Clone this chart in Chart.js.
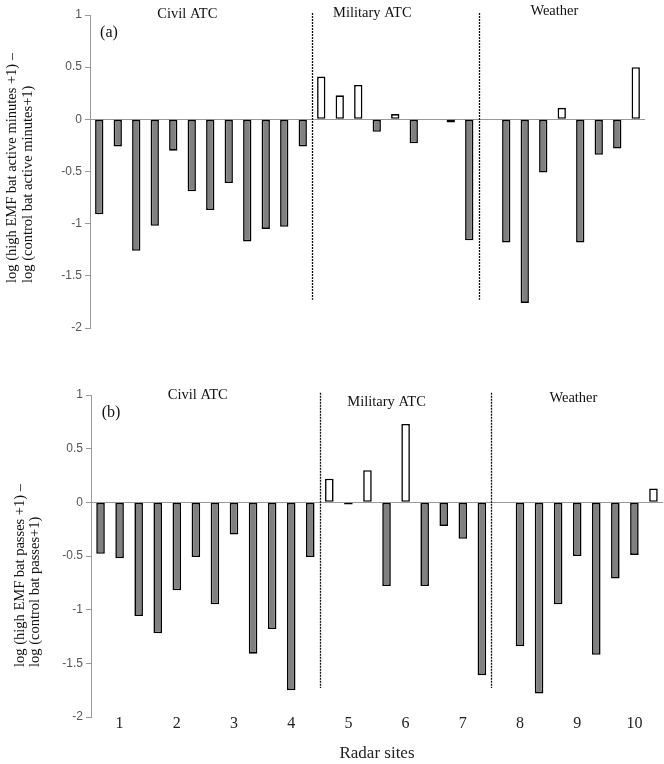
<!DOCTYPE html>
<html lang="en">
<head>
    <meta charset="UTF-8">
    <title>Radar sites - EMF bat activity</title>
    <script src="https://cdn.jsdelivr.net/npm/chart.js"></script>
    <style>
        body {
            margin: 0;
            background: #fff;
        }
        .panel {
            position: absolute;
            left: 0;
            width: 664px;
        }
        #panelA { top: 0; height: 345px; }
        #panelB { top: 380px; height: 384px; }
    </style>
</head>
<body>
    <div class="panel" id="panelA"><canvas id="chartA"></canvas></div>
    <div class="panel" id="panelB"><canvas id="chartB"></canvas></div>

    <script>
        // radar sites, 3 bars per site
        const sites = ['1', '2', '3', '4', '5', '6', '7', '8', '9', '10'];
        const groups = ['Civil ATC', 'Military ATC', 'Weather'];
        const yTicks = [-2, -1.5, -1, -0.5, 0, 0.5, 1];

        // (a) active minutes
        const activeMinutes = [
            -0.91, -0.26, -1.26, -1.02, -0.30, -0.69, -0.87, -0.61, -1.17, -1.05, -1.03, -0.26,
            0.41, 0.23, 0.33, -0.12, 0.05, -0.23, null, -0.03, -1.16,
            null, -1.18, -1.76, -0.51, 0.11, -1.18, -0.34, -0.28, 0.50
        ];
        // (b) bat passes
        const batPasses = [
            -0.48, -0.52, -1.06, -1.22, -0.82, -0.51, -0.95, -0.30, -1.41, -1.18, -1.75, -0.51,
            0.22, -0.02, 0.30, -0.78, 0.73, -0.78, -0.22, -0.34, -1.61,
            null, -1.34, -1.78, -0.95, -0.50, -1.42, -0.71, -0.49, 0.13
        ];

        const barLabels = [];
        sites.forEach(s => { barLabels.push(s, s, s); });

        const serif = "'Liberation Serif', 'Times New Roman', serif";
        const sans = "'Liberation Sans', Arial, sans-serif";

        function decor(cfg) {
            return {
                id: 'decor',
                afterDatasetsDraw(chart) {
                    const ctx = chart.ctx;
                    const x = chart.scales.x, y = chart.scales.y;
                    ctx.save();
                    // group separators
                    ctx.strokeStyle = '#111';
                    ctx.lineWidth = 1.3;
                    ctx.setLineDash([2, 1]);
                    [11.5, 20.5].forEach(v => {
                        const px = Math.round(x.getPixelForValue(v)) + 0.5;
                        ctx.beginPath();
                        ctx.moveTo(px, y.getPixelForValue(1.02));
                        ctx.lineTo(px, y.getPixelForValue(-1.73));
                        ctx.stroke();
                    });
                    ctx.setLineDash([]);

                    ctx.fillStyle = '#111';
                    ctx.textAlign = 'center';
                    ctx.textBaseline = 'middle';
                    ctx.font = '14.5px ' + serif;
                    groups.forEach((g, i) => {
                        ctx.fillText(g, x.getPixelForValue(cfg.groupX[i]), cfg.groupY[i]);
                    });

                    ctx.font = '16px ' + serif;
                    ctx.fillText(cfg.tag, chart.chartArea.left + cfg.tagDx, 33);

                    // two-line y title, rotated
                    ctx.font = '14.5px ' + serif;
                    ctx.textAlign = 'left';
                    cfg.title.forEach((line, i) => {
                        ctx.save();
                        ctx.translate(cfg.titleX[i], cfg.titleY);
                        ctx.rotate(-Math.PI / 2);
                        ctx.fillText(line, 0, 0);
                        ctx.restore();
                    });
                    ctx.restore();
                }
            };
        }

        function yScale(width) {
            return {
                min: -2,
                max: 1,
                afterBuildTicks: s => { s.ticks = yTicks.map(v => ({ value: v })); },
                afterFit: s => { s.width = width; },
                ticks: {
                    font: { family: sans, size: 12 },
                    color: '#555',
                    padding: 3,
                    callback: v => String(v)
                },
                grid: {
                    color: c => (c.tick && c.tick.value === 0) ? '#999' : 'rgba(0,0,0,0)',
                    tickColor: '#999',
                    tickLength: 5
                },
                border: { color: '#999' }
            };
        }

        function dataset(values) {
            return {
                data: values,
                backgroundColor: values.map(v => v > 0 ? '#ffffff' : '#808080'),
                borderColor: '#000',
                borderWidth: 1.6,
                borderSkipped: false,
                barPercentage: 0.45,
                categoryPercentage: 1
            };
        }

        new Chart(document.getElementById('chartA'), {
            type: 'bar',
            data: { labels: barLabels, datasets: [dataset(activeMinutes)] },
            options: {
                responsive: true,
                maintainAspectRatio: false,
                animation: false,
                layout: { padding: { top: 15, bottom: 17, left: 0, right: 19 } },
                plugins: { legend: { display: false }, tooltip: { enabled: false } },
                scales: {
                    x: { display: false },
                    y: yScale(90)
                }
            },
            plugins: [decor({
                tag: '(a)',
                tagDx: 19,
                groupX: [4.76, 14.76, 24.6],
                groupY: [14, 13, 11],
                title: ['log (high EMF bat active minutes +1) \u2013', 'log (control bat active minutes+1)'],
                titleX: [12.5, 28.5],
                titleY: 283
            })]
        });

        new Chart(document.getElementById('chartB'), {
            type: 'bar',
            data: { labels: barLabels, datasets: [dataset(batPasses)] },
            options: {
                responsive: true,
                maintainAspectRatio: false,
                animation: false,
                layout: { padding: { top: 15, bottom: 0, left: 0, right: 1 } },
                plugins: { legend: { display: false }, tooltip: { enabled: false } },
                scales: {
                    x: {
                        afterFit: s => { s.height = 47; },
                        grid: { display: false, drawTicks: false },
                        border: { display: false },
                        ticks: {
                            autoSkip: false,
                            maxRotation: 0,
                            padding: -3,
                            font: { family: serif, size: 16 },
                            color: '#222',
                            callback: (v, i) => i % 3 === 1 ? barLabels[i] : ''
                        },
                        title: {
                            display: true,
                            text: 'Radar sites',
                            font: { family: serif, size: 17 },
                            color: '#222',
                            padding: { top: 0, bottom: 0 }
                        }
                    },
                    y: yScale(91)
                }
            },
            plugins: [decor({
                tag: '(b)',
                tagDx: 20,
                groupX: [5.1, 15.0, 24.8],
                groupY: [15, 22, 18],
                title: ['log (high EMF bat passes +1) \u2013', 'log (control bat passes+1)'],
                titleX: [20, 35.5],
                titleY: 287
            })]
        });
    </script>
</body>
</html>
